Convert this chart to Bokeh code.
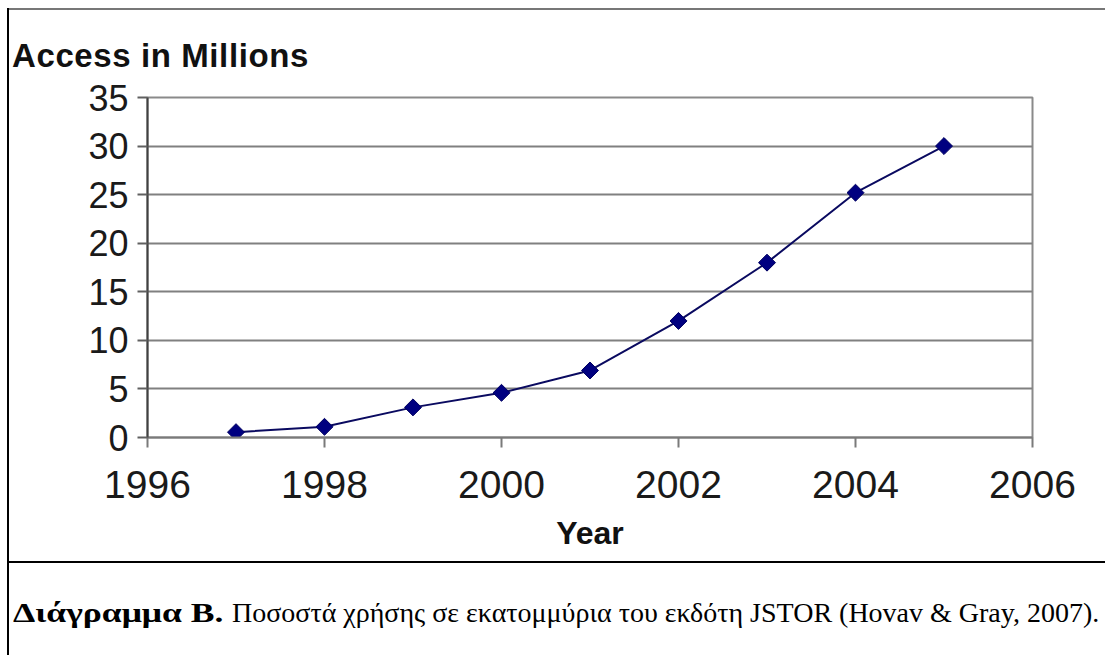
import html
import numpy as np
from bokeh.plotting import figure
from bokeh.models import FixedTicker, Range1d, ColumnDataSource, Div
from bokeh.layouts import row, column
from bokeh.embed import file_html
from bokeh.resources import INLINE

years = [1997, 1998, 1999, 2000, 2001, 2002, 2003, 2004, 2005]
access = [0.55, 1.1, 3.1, 4.6, 6.9, 12.0, 18.0, 25.2, 30.0]
x_ticks = [1996, 1998, 2000, 2002, 2004, 2006]
y_ticks = [0, 5, 10, 15, 20, 25, 30, 35]
title_text = "Access in Millions"
x_label = "Year"
caption_bold = "Διάγραμμα Β."
caption_rest = "Ποσοστά χρήσης σε εκατομμύρια του εκδότη JSTOR (Hovav & Gray, 2007)."

W, H = 1105, 655
LW = 9            # left strip (margin + black border)
CW = W - LW       # content width
TOP_H = 70        # title block height
CAP_H = 94        # caption block height
FIG_H = H - TOP_H - CAP_H
FL, FR, FT = 138, 73, 27
FRAME_H = 340
FB = FIG_H - FT - FRAME_H

p = figure(width=CW, height=FIG_H, output_backend="svg", toolbar_location=None,
           x_range=Range1d(1996, 2006), y_range=Range1d(0, 35),
           min_border_left=FL, min_border_right=FR, min_border_top=FT, min_border_bottom=FB)
p.background_fill_color = "white"
p.border_fill_color = "white"
p.outline_line_color = "#8a8a8a"
p.outline_line_width = 2

p.xgrid.visible = False
p.ygrid.grid_line_color = "#808080"
p.ygrid.grid_line_width = 2

p.xaxis.ticker = FixedTicker(ticks=x_ticks)
p.yaxis.ticker = FixedTicker(ticks=y_ticks)
p.xaxis.minor_tick_line_color = None
p.yaxis.minor_tick_line_color = None

for ax in (p.xaxis, p.yaxis):
    ax.major_label_text_font = "Liberation Sans"
    ax.major_label_text_color = "#1a1a1a"
    ax.major_tick_in = 0
    ax.major_tick_out = 10
    ax.major_tick_line_width = 2
    ax.axis_line_width = 2

p.xaxis.major_label_text_font_size = "39px"
p.yaxis.major_label_text_font_size = "36px"
p.xaxis.axis_line_color = "#7a7a7a"
p.xaxis.major_tick_line_color = "#7a7a7a"
p.yaxis.axis_line_color = "#404040"
p.yaxis.major_tick_line_color = "#606060"
p.xaxis.major_label_standoff = 23
p.yaxis.major_label_standoff = 9

p.xaxis.axis_label = x_label
p.xaxis.axis_label_text_font = "Liberation Sans"
p.xaxis.axis_label_text_font_style = "bold"
p.xaxis.axis_label_text_font_size = "32px"
p.xaxis.axis_label_text_color = "#111111"
p.xaxis.axis_label_standoff = 14

src = ColumnDataSource(dict(x=years, y=access))
p.line("x", "y", source=src, line_color="#0a0a60", line_width=2)
p.scatter("x", "y", source=src, marker="square", angle=np.pi / 4, size=12,
          fill_color="#000080", line_color="#000060")

left_strip = Div(width=LW, height=H, margin=0, text=(
    '<div style="padding-top:8px;margin:0;">'
    '<div style="margin-left:7px;width:2px;height:647px;background:#000;"></div></div>'))

top_div = Div(width=CW, height=TOP_H, margin=0, text=(
    f'<div style="padding-top:8px;margin:0;width:{CW}px;">'
    f'<div style="border-top:2px solid #777777;height:60px;width:{CW}px;">'
    '<div style="padding-top:32px;padding-left:3px;font-family:\'Liberation Sans\';'
    'font-weight:bold;font-size:33px;line-height:28px;letter-spacing:0.6px;'
    'color:#111;white-space:nowrap;">'
    f'{html.escape(title_text)}</div></div></div>'))

cap_div = Div(width=CW, height=CAP_H, margin=0, text=(
    f'<div style="border-top:2px solid #000;height:92px;width:{CW}px;margin:0;">'
    '<div style="padding-top:36px;padding-left:4px;font-family:\'Liberation Serif\';'
    'font-size:28px;line-height:28px;color:#000;white-space:nowrap;">'
    '<span style="display:inline-block;width:219px;">'
    '<b style="display:inline-block;transform:scaleX(1.27);transform-origin:0 0;">'
    f'{html.escape(caption_bold)}</b></span>'
    f'{html.escape(caption_rest)}</div></div>'))

layout = row(left_strip, column(top_div, p, cap_div, margin=0, spacing=0), margin=0, spacing=0)

open("out.html", "w").write(file_html(layout, INLINE))
